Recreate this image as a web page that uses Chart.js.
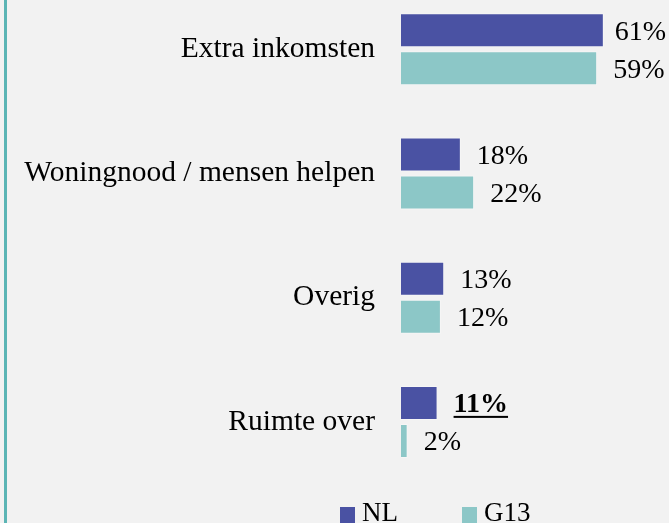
<!DOCTYPE html>
<html><head><meta charset="utf-8">
<script src="https://cdn.jsdelivr.net/npm/chart.js"></script>
<style>
html,body{margin:0;padding:0;background:#f2f2f2;overflow:hidden;width:669px;height:523px;}
#wrap{position:absolute;left:0;top:-13px;width:669px;height:551px;}
#frame{position:absolute;left:4px;top:0;width:3px;height:523px;background:#5cb5b5;}
</style></head><body>
<div id="wrap"><canvas id="c" width="669" height="551"></canvas></div>
<div id="frame"></div>
<script>
const categories = ['Extra inkomsten', 'Woningnood / mensen helpen', 'Overig', 'Ruimte over'];
const seriesNames = ['NL', 'G13'];
const nlValues = [61, 18, 13, 11];
const g13Values = [59, 22, 12, 2];
const nlEmphasis = [false, false, false, true];

const FONT = '"Liberation Serif", "Times New Roman", serif';
const colors = ['#4a52a3', '#8cc7c7'];

const valueLabels = {
  id: 'valueLabels',
  afterDatasetsDraw(chart) {
    const ctx = chart.ctx;
    ctx.save();
    chart.data.datasets.forEach((ds, di) => {
      const meta = chart.getDatasetMeta(di);
      meta.data.forEach((bar, i) => {
        const bold = di === 0 && nlEmphasis[i];
        const txt = ds.data[i] + '%';
        ctx.font = (bold ? 'bold ' : '') + '28px ' + FONT;
        const w = ctx.measureText(txt).width;
        let x = bar.x + 16;
        if (x + w > 666) x = 666 - w;
        ctx.fillStyle = '#000';
        ctx.textBaseline = 'middle';
        ctx.textAlign = 'left';
        ctx.fillText(txt, x, bar.y + 2);
        if (bold) ctx.fillRect(x, bar.y + 13, w, 2);
      });
    });
    ctx.restore();
  }
};

const customLegend = {
  id: 'customLegend',
  afterDraw(chart) {
    const ctx = chart.ctx;
    ctx.save();
    const starts = [340, 462];
    ctx.font = '27px ' + FONT;
    ctx.textBaseline = 'alphabetic';
    ctx.textAlign = 'left';
    chart.data.datasets.forEach((ds, di) => {
      const x0 = starts[di];
      ctx.fillStyle = ds.backgroundColor;
      ctx.fillRect(x0, 520, 15, 16);
      ctx.fillStyle = '#000';
      ctx.fillText(ds.label, x0 + 22, 534);
    });
    ctx.restore();
  }
};

new Chart(document.getElementById('c'), {
  type: 'bar',
  data: {
    labels: categories,
    datasets: [
      { label: seriesNames[0], data: nlValues, backgroundColor: colors[0], borderColor: 'rgba(255,255,255,0.35)', borderWidth: 1 },
      { label: seriesNames[1], data: g13Values, backgroundColor: colors[1], borderColor: 'rgba(255,255,255,0.35)', borderWidth: 1 }
    ]
  },
  options: {
    indexAxis: 'y',
    responsive: false,
    devicePixelRatio: 1,
    animation: false,
    categoryPercentage: 0.612,
    barPercentage: 0.895,
    layout: { padding: { left: 0, right: 2, top: 0, bottom: 54 } },
    plugins: { legend: { display: false }, tooltip: { enabled: false } },
    scales: {
      x: { min: 0, max: 80, display: false },
      y: {
        grid: { display: false, drawTicks: true, tickLength: 26 },
        border: { display: false },
        ticks: { font: { family: FONT, size: 29.5, lineHeight: 0.01 }, color: '#000', padding: 0 },
        afterFit(s) { s.width = 401; }
      }
    }
  },
  plugins: [valueLabels, customLegend]
});
</script>
</body></html>
